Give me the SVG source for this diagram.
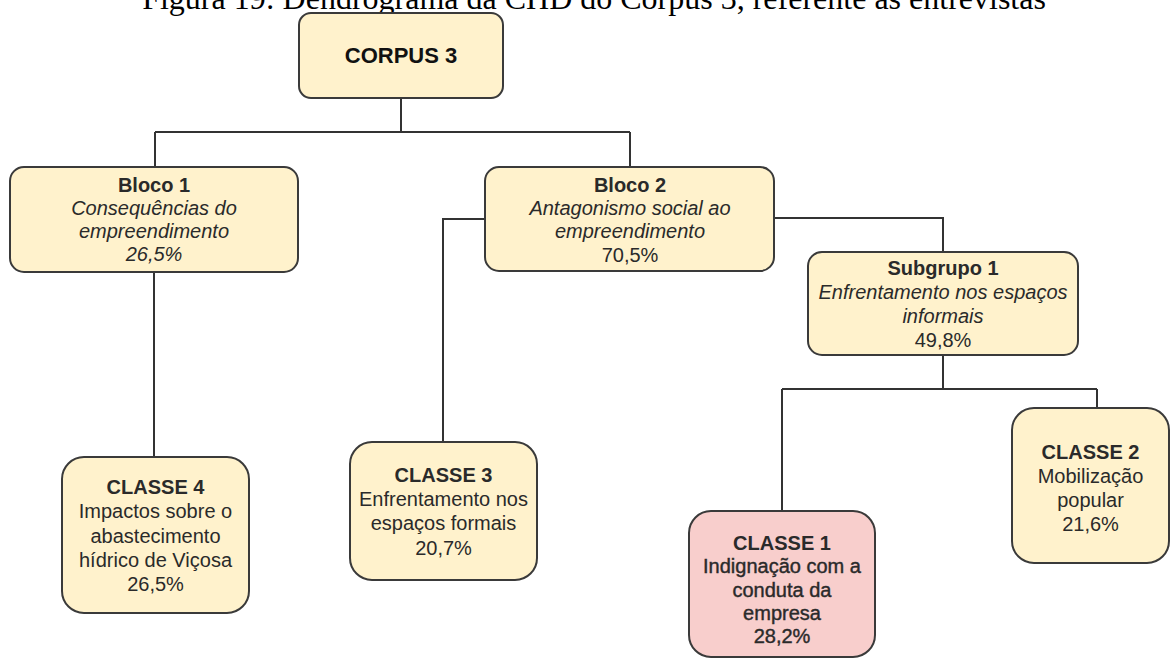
<svg xmlns="http://www.w3.org/2000/svg" width="1171" height="659" viewBox="0 0 1171 659">
<style>
.box{fill:#fff2cc;stroke:#3a3a3a;stroke-width:2}
.pink{fill:#f8cecc;stroke:#3a3a3a;stroke-width:2}
.t{font-family:"Liberation Sans",Arial,sans-serif;font-size:20px;fill:#2a2a2a;text-anchor:middle}
.b{font-weight:bold}
.i{font-style:italic}
.title{font-family:"Liberation Serif","Times New Roman",serif;font-size:32px;fill:#000;text-anchor:middle}
.c{fill:none;stroke:#333;stroke-width:2}
</style>
<rect width="1171" height="659" fill="#fff"/>
<text class="title" x="594" y="9">Figura 19: Dendrograma da CHD do Corpus 3, referente às entrevistas</text>
<g id="connectors">
<path class="c" d="M401 98V132M155 132H630M155 132V167M630 132V167"/>
<path class="c" d="M154 272V457"/>
<path class="c" d="M485 219H443V442"/>
<path class="c" d="M775 218H943V252"/>
<path class="c" d="M943 355V389M782 389H1097M782 389V511M1097 389V408"/>
</g>
<g id="corpus3">
<rect class="box" x="299" y="13" width="204" height="85" rx="12"/>
<text class="t b" x="401" y="63" style="font-size:22px;fill:#111">CORPUS 3</text>
</g>
<g id="bloco1">
<rect class="box" x="10" y="167" width="288" height="105" rx="14"/>
<text class="t b" x="154" y="192">Bloco 1</text>
<text class="t i" x="154" y="215">Consequências do</text>
<text class="t i" x="154" y="238">empreendimento</text>
<text class="t i" x="154" y="261">26,5%</text>
</g>
<g id="bloco2">
<rect class="box" x="485" y="167" width="289" height="104" rx="14"/>
<text class="t b" x="630" y="192">Bloco 2</text>
<text class="t i" x="630" y="215">Antagonismo social ao</text>
<text class="t i" x="630" y="238">empreendimento</text>
<text class="t" x="630" y="262">70,5%</text>
</g>
<g id="subgrupo1">
<rect class="box" x="808" y="252" width="270" height="103" rx="14"/>
<text class="t b" x="943" y="275">Subgrupo 1</text>
<text class="t i" x="943" y="299">Enfrentamento nos espaços</text>
<text class="t i" x="943" y="323">informais</text>
<text class="t" x="943" y="347">49,8%</text>
</g>
<g id="classe4">
<rect class="box" x="62" y="457" width="187" height="156" rx="22"/>
<text class="t b" x="155.5" y="494">CLASSE 4</text>
<text class="t" x="155.5" y="518">Impactos sobre o</text>
<text class="t" x="155.5" y="543">abastecimento</text>
<text class="t" x="155.5" y="567">hídrico de Viçosa</text>
<text class="t" x="155.5" y="591">26,5%</text>
</g>
<g id="classe3">
<rect class="box" x="350" y="442" width="187" height="138" rx="22"/>
<text class="t b" x="443.5" y="482">CLASSE 3</text>
<text class="t" x="443.5" y="506">Enfrentamento nos</text>
<text class="t" x="443.5" y="530">espaços formais</text>
<text class="t" x="443.5" y="555">20,7%</text>
</g>
<g id="classe1">
<rect class="pink" x="689" y="511" width="186" height="146" rx="22"/>
<text class="t b" x="782" y="550">CLASSE 1</text>
<text class="t" x="782" y="573" style="stroke:#2a2a2a;stroke-width:0.4">Indignação com a</text>
<text class="t" x="782" y="597" style="stroke:#2a2a2a;stroke-width:0.4">conduta da</text>
<text class="t" x="782" y="620" style="stroke:#2a2a2a;stroke-width:0.4">empresa</text>
<text class="t" x="782" y="643" style="stroke:#2a2a2a;stroke-width:0.4">28,2%</text>
</g>
<g id="classe2">
<rect class="box" x="1012" y="408" width="157" height="155" rx="22"/>
<text class="t b" x="1090.5" y="459">CLASSE 2</text>
<text class="t" x="1090.5" y="483">Mobilização</text>
<text class="t" x="1090.5" y="507">popular</text>
<text class="t" x="1090.5" y="531">21,6%</text>
</g>
</svg>
